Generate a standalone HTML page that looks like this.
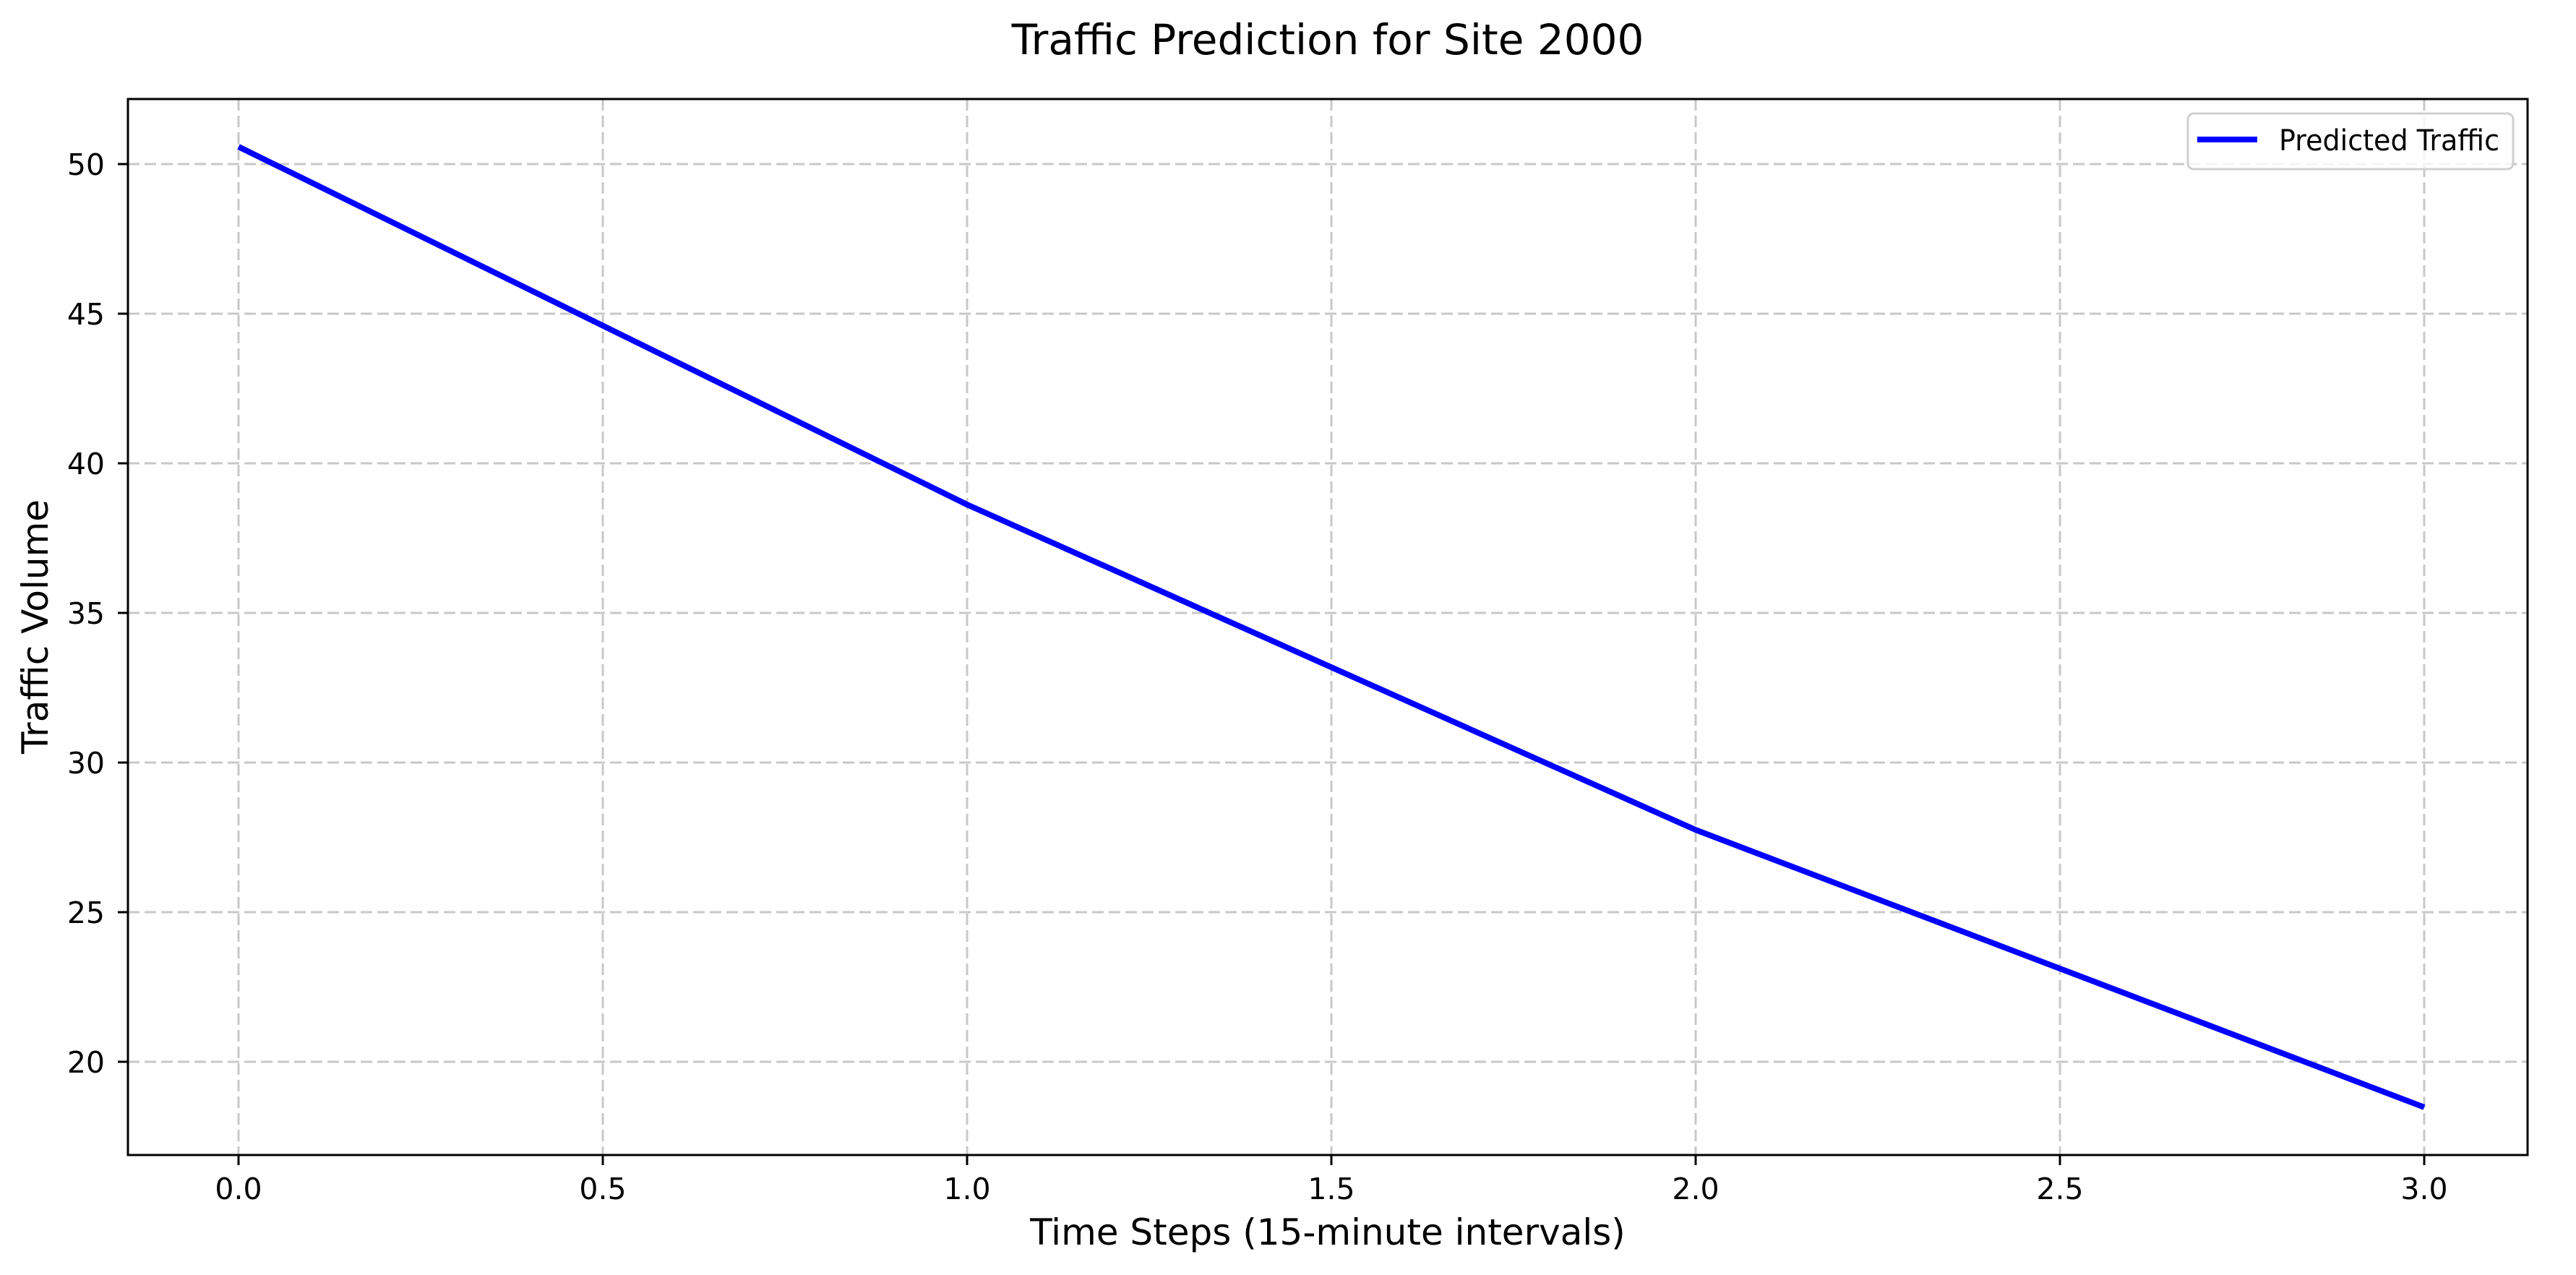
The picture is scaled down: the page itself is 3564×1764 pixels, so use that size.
<!DOCTYPE html>
<html><head><meta charset="utf-8"><style>
html,body{margin:0;padding:0;background:#fff;}
svg{display:block;font-family:"DejaVu Sans","Liberation Sans",sans-serif;}
</style></head><body>
<svg id="chart" width="3564" height="1764" viewBox="0 0 3564 1764" xmlns="http://www.w3.org/2000/svg">
<rect x="0" y="0" width="3564" height="1764" fill="#fff"/>
<text x="1837" y="75" font-size="58" text-anchor="middle">Traffic Prediction for Site 2000</text>
<g id="grid"></g>
<g id="ticks"></g>
<g id="series"></g>
<rect x="177" y="137" width="3320" height="1461" fill="none" stroke="#000" stroke-width="3"/>
<text x="1837" y="1722" font-size="50" text-anchor="middle">Time Steps (15-minute intervals)</text>
<text transform="translate(66,867) rotate(-90)" font-size="50" text-anchor="middle">Traffic Volume</text>
<g>
<rect x="3027" y="157" width="450" height="77" rx="8" fill="#fff" fill-opacity="0.8" stroke="#d0d0d0" stroke-width="3"/>
<line x1="3040" y1="193" x2="3123" y2="193" stroke="#0000ff" stroke-width="8"/>
<text x="3153" y="208" font-size="40" textLength="305" lengthAdjust="spacingAndGlyphs">Predicted Traffic</text>
</g>
</svg>
<script>
const xValues = [0, 1, 2, 3];
const trafficValues = [50.58, 38.62, 27.75, 18.48];
const xTicks = [0, 0.5, 1, 1.5, 2, 2.5, 3];
const xTickLabels = ["0.0","0.5","1.0","1.5","2.0","2.5","3.0"];
const yTicks = [20, 25, 30, 35, 40, 45, 50];
const yTickLabels = ["20","25","30","35","40","45","50"];

const NS = "http://www.w3.org/2000/svg";
const L = 177, R = 3497, T = 137, B = 1598;
function xs(v){ return 330 + v * 1008; }
function ys(v){ return 227 + (50 - v) * 41.4; }
function mk(tag, attrs, parent){
  const e = document.createElementNS(NS, tag);
  for (const k in attrs) e.setAttribute(k, attrs[k]);
  parent.appendChild(e);
  return e;
}
const grid = document.getElementById('grid');
const ticks = document.getElementById('ticks');
const series = document.getElementById('series');

xTicks.forEach((v, i) => {
  const g = mk('line', {x1: xs(v), x2: xs(v), y1: T, y2: B, stroke: '#c8c8c8', 'stroke-width': 3, 'stroke-dasharray': '16,7'}, grid);
  
  
  const t = mk('line', {x1: xs(v), x2: xs(v), y1: B, y2: B + 14, stroke: '#000', 'stroke-width': 3}, ticks);
  
  
  const lb = mk('text', {x: xs(v), y: 1659, 'font-size': 41, 'text-anchor': 'middle'}, ticks);
  lb.textContent = xTickLabels[i];
  
  
});
yTicks.forEach((v, i) => {
  const g = mk('line', {x1: L, x2: R, y1: ys(v), y2: ys(v), stroke: '#c8c8c8', 'stroke-width': 3, 'stroke-dasharray': '16,7'}, grid);
  
  
  const t = mk('line', {x1: L - 14, x2: L, y1: ys(v), y2: ys(v), stroke: '#000', 'stroke-width': 3}, ticks);
  
  
  const lb = mk('text', {x: 145, y: ys(v) + 15, 'font-size': 41, 'text-anchor': 'end'}, ticks);
  lb.textContent = yTickLabels[i];
  
  
});
const pts = xValues.map((x, i) => xs(x) + ',' + ys(trafficValues[i])).join(' ');
const line = mk('polyline', {points: pts, fill: 'none', stroke: '#0000ff', 'stroke-width': 8, 'stroke-linejoin': 'round'}, series);


</script>
</body></html>
